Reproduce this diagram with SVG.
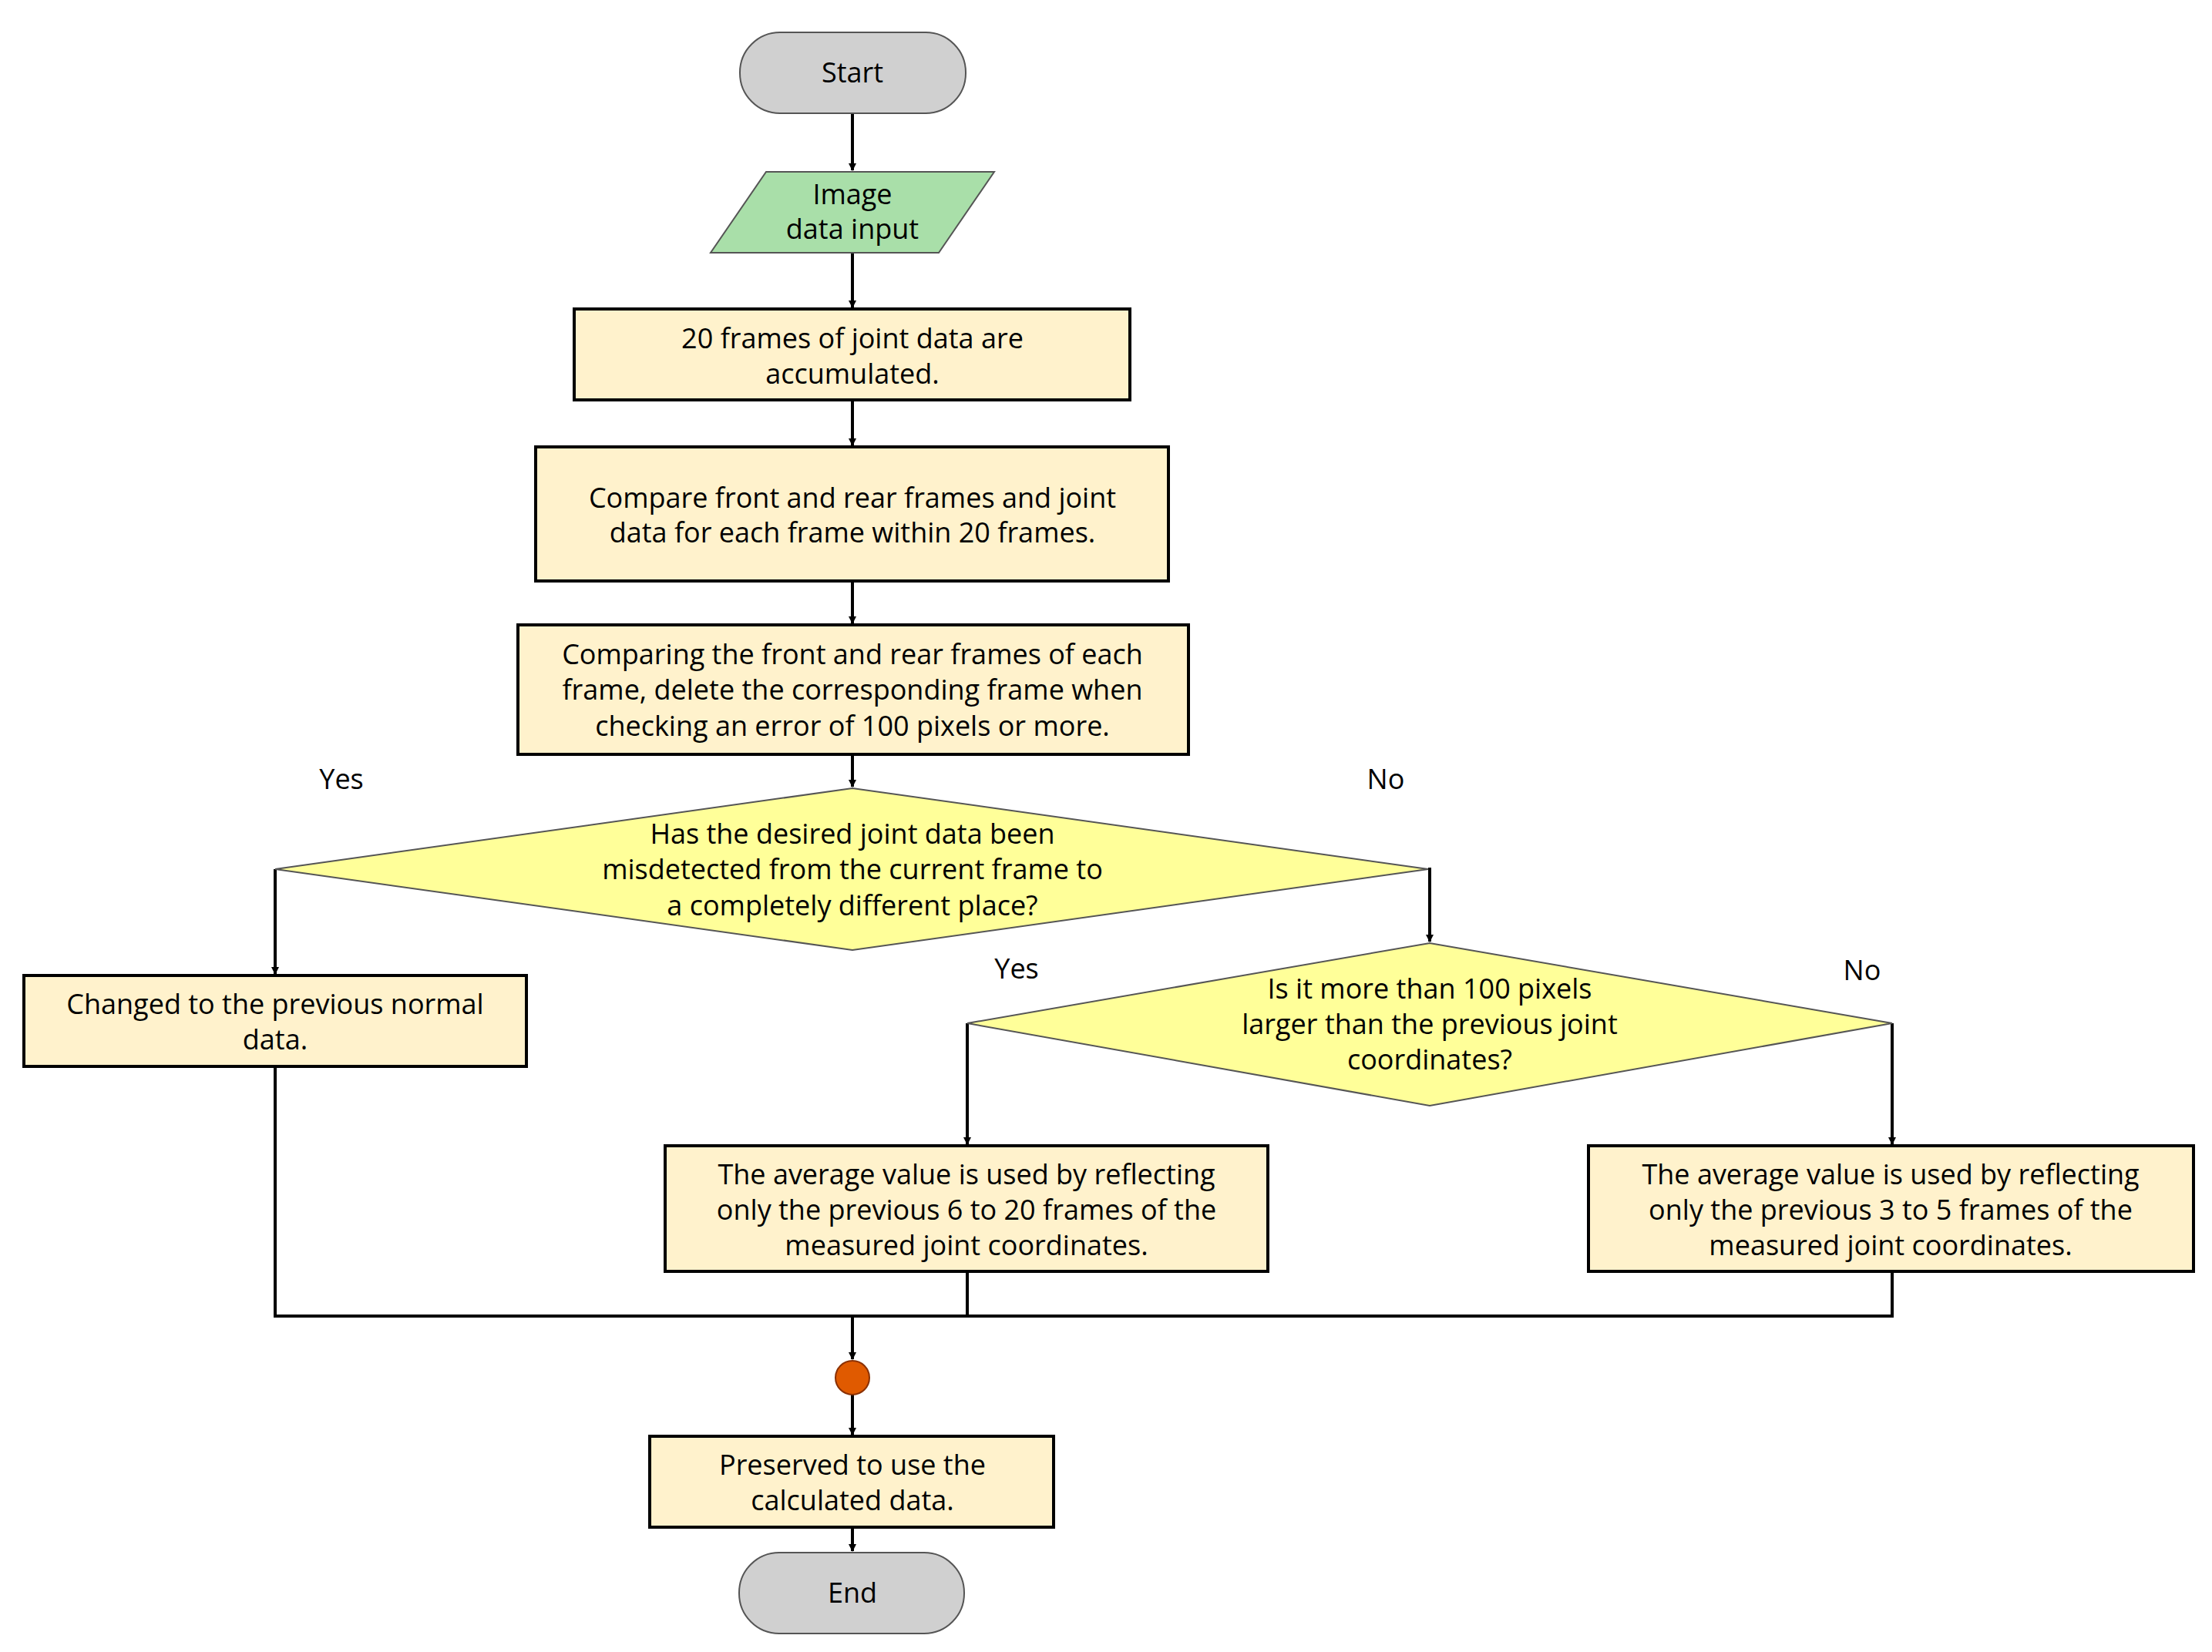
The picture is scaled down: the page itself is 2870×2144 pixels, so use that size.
<svg xmlns="http://www.w3.org/2000/svg" width="2870" height="2144" viewBox="0 0 2870 2144">
<defs>
<marker id="ah" markerWidth="10" markerHeight="10" refX="9" refY="5" orient="auto" markerUnits="userSpaceOnUse"><path d="M0,0 L10,5 L0,10 z" fill="#000"/></marker>
<style>
.box{fill:#fff2cc;stroke:#000;stroke-width:4}
.term{fill:#d0d0d0;stroke:#555;stroke-width:2}
.dia{fill:#ffff99;stroke:#555;stroke-width:2}
.t{font-family:"Open Sans","Noto Sans",sans-serif;font-size:36px;fill:#000;text-anchor:middle}
.c{fill:none;stroke:#000;stroke-width:4}
</style>
</defs>
<rect width="2870" height="2144" fill="#fff"/>
<g id="connectors">
<line class="c" x1="1106" y1="147" x2="1106" y2="221" marker-end="url(#ah)"/>
<line class="c" x1="1106" y1="328" x2="1106" y2="399" marker-end="url(#ah)"/>
<line class="c" x1="1106" y1="519" x2="1106" y2="578" marker-end="url(#ah)"/>
<line class="c" x1="1106" y1="754" x2="1106" y2="809" marker-end="url(#ah)"/>
<line class="c" x1="1106" y1="979" x2="1106" y2="1021" marker-end="url(#ah)"/>
<polyline class="c" points="357,1128 357,1264" marker-end="url(#ah)"/>
<polyline class="c" points="1853,1128 1855,1128 1855,1222" marker-end="url(#ah)"/>
<polyline class="c" points="1255,1328 1255,1485" marker-end="url(#ah)"/>
<polyline class="c" points="2455,1328 2455,1485" marker-end="url(#ah)"/>
<polyline class="c" points="357,1384 357,1708 2455,1708 2455,1650"/>
<line class="c" x1="1255" y1="1650" x2="1255" y2="1708"/>
<line class="c" x1="1106" y1="1708" x2="1106" y2="1764" marker-end="url(#ah)"/>
<line class="c" x1="1106" y1="1810" x2="1106" y2="1862" marker-end="url(#ah)"/>
<line class="c" x1="1106" y1="1982" x2="1106" y2="2013" marker-end="url(#ah)"/>
</g>
<g id="start"><rect class="term" x="960" y="42" width="293" height="105" rx="52"/><text class="t" x="1106" y="107">Start</text></g>
<g id="input"><polygon points="994,223 1290,223 1218,328 922,328" fill="#a9dfa9" stroke="#555" stroke-width="2"/><text class="t" x="1106" y="265">Image</text><text class="t" x="1106" y="310">data input</text></g>
<g id="accum"><rect class="box" x="745" y="401" width="721" height="118"/><text class="t" x="1106" y="452">20 frames of joint data are</text><text class="t" x="1106" y="498">accumulated.</text></g>
<g id="compare"><rect class="box" x="695" y="580" width="821" height="174"/><text class="t" x="1106" y="659">Compare front and rear frames and joint</text><text class="t" x="1106" y="704">data for each frame within 20 frames.</text></g>
<g id="delete"><rect class="box" x="672" y="811" width="870" height="168"/><text class="t" x="1106" y="862">Comparing the front and rear frames of each</text><text class="t" x="1106" y="908">frame, delete the corresponding frame when</text><text class="t" x="1106" y="955">checking an error of 100 pixels or more.</text></g>
<g id="d1"><polygon class="dia" points="357,1128 1106,1023 1853,1128 1106,1233"/><text class="t" x="1106" y="1095">Has the desired joint data been</text><text class="t" x="1106" y="1141">misdetected from the current frame to</text><text class="t" x="1106" y="1188">a completely different place?</text></g>
<text class="t" x="443" y="1024">Yes</text><text class="t" x="1798" y="1024">No</text>
<g id="prev"><rect class="box" x="31" y="1266" width="652" height="118"/><text class="t" x="357" y="1316">Changed to the previous normal</text><text class="t" x="357" y="1362">data.</text></g>
<g id="d2"><polygon class="dia" points="1255,1328 1855,1224 2455,1328 1855,1435"/><text class="t" x="1855" y="1296">Is it more than 100 pixels</text><text class="t" x="1855" y="1342">larger than the previous joint</text><text class="t" x="1855" y="1388">coordinates?</text></g>
<text class="t" x="1319" y="1270">Yes</text><text class="t" x="2416" y="1272">No</text>
<g id="avg1"><rect class="box" x="863" y="1487" width="782" height="163"/><text class="t" x="1254" y="1537">The average value is used by reflecting</text><text class="t" x="1254" y="1583">only the previous 6 to 20 frames of the</text><text class="t" x="1254" y="1629">measured joint coordinates.</text></g>
<g id="avg2"><rect class="box" x="2061" y="1487" width="785" height="163"/><text class="t" x="2453" y="1537">The average value is used by reflecting</text><text class="t" x="2453" y="1583">only the previous 3 to 5 frames of the</text><text class="t" x="2453" y="1629">measured joint coordinates.</text></g>
<g id="merge"><circle cx="1106" cy="1788" r="22" fill="#e05a00" stroke="#8a3000" stroke-width="2"/></g>
<g id="preserve"><rect class="box" x="843" y="1864" width="524" height="118"/><text class="t" x="1106" y="1914">Preserved to use the</text><text class="t" x="1106" y="1960">calculated data.</text></g>
<g id="end"><rect class="term" x="959" y="2015" width="292" height="105" rx="52"/><text class="t" x="1106" y="2080">End</text></g>
</svg>
